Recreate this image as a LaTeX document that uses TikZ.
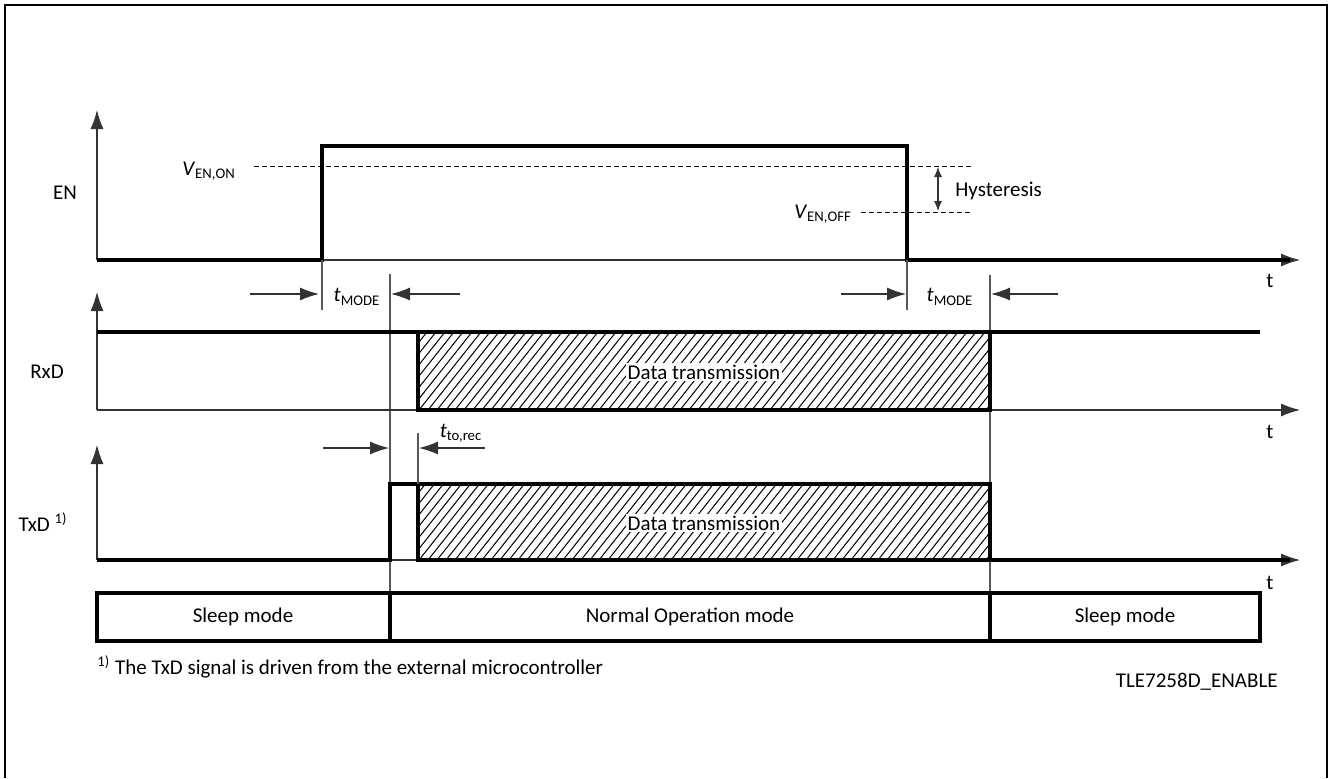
\documentclass[tikz,border=0pt]{standalone}
\usepackage{fontspec}
\setmainfont{Carlito}
\usetikzlibrary{arrows.meta}
\newcommand{\tsub}[2]{\textit{#1}\textsubscript{#2}}
\tikzset{
	sig/.style={line width=1.7pt},
	thin/.style={line width=0.55pt,black!80},
	guide/.style={line width=0.55pt,black!65},
	axis/.style={thin,-{Latex[length=9.5pt,width=6.5pt]}},
	dim/.style={thin,-{Latex[length=9.5pt,width=6.5pt]}},
	hyst/.style={thin,{Latex[length=5pt,width=4pt]}-{Latex[length=5pt,width=4pt]}},
	level/.style={line width=0.5pt,dash pattern=on 2.5pt off 1.5pt},
	hatch/.style={line width=0.5pt},
	modebox/.style={line width=1.7pt},
	every node/.style={font=\fontsize{10.5}{12.6}\selectfont,inner sep=1pt},
}
\begin{document}
\begin{tikzpicture}[x=0.5pt,y=-0.5pt]
	\useasboundingbox (0,0) rectangle (1330,778);
	\draw[line width=0.6pt] (5,778)--(5,5)--(1327,5)--(1327,778);

	% EN
	\node at (65,193)(en){EN};
	\coordinate (en0) at (97,260);
	\draw[axis] (en0)--(97,110);
	\draw[axis] (en0)--(1300,260);
	\draw[sig] (en0)--(322,260)--(322,146)--(907,146)--(907,260)--(1290,260);
	\node at (209,171)(von){\tsub{V}{EN,ON}};
	\node at (823,214)(voff){\tsub{V}{EN,OFF}};
	\draw[level] (254,166)--(971,166);
	\draw[level] (861,212)--(971,212);
	\coordinate (h1) at (938,167);
	\coordinate (h2) at (938,211);
	\draw[hyst] (h1)--(h2);
	\node[anchor=west] at (953,191)(hy){Hysteresis};
	\node at (1270,281)(t1){t};

	% t_MODE
	\draw[guide] (322,260)--(322,310);
	\draw[guide] (907,260)--(907,310);
	\draw[guide] (390,274)--(390,593);
	\draw[guide] (990,275)--(990,593);
	\node at (357,297)(tm1){\tsub{t}{MODE}};
	\node at (950,297)(tm2){\tsub{t}{MODE}};
	\draw[dim] (250,294)--(319,294);
	\draw[dim] (460,294)--(391,294);
	\draw[dim] (841,294)--(906,294);
	\draw[dim] (1058,294)--(991,294);

	% RxD
	\node at (47,372)(rxd){RxD};
	\coordinate (rx0) at (97,410);
	\draw[axis] (rx0)--(97,292);
	\draw[axis] (rx0)--(1300,410);
	\draw[sig] (97,332)--(1260,332);
	\begin{scope}
		\clip (418,332) rectangle (990,410);
		\foreach \i in {0,...,72}
			\draw[hatch] ({418+\i*9-62},410)--++(62,-78);
	\end{scope}
	\draw[sig] (418,332) rectangle (990,410);
	\node[fill=white] at (704,372)(drx){Data transmission};
	\node at (1270,432)(t2){t};

	% TxD
	\node at (43,522)(txd){TxD \textsuperscript{1)}};
	\coordinate (tx0) at (97,560);
	\draw[axis] (tx0)--(97,445);
	\draw[axis] (tx0)--(1300,560);
	\draw[sig] (tx0)--(390,560)--(390,484)--(418,484);
	\begin{scope}
		\clip (418,484) rectangle (990,560);
		\foreach \i in {0,...,72}
			\draw[hatch] ({418+\i*9-62},560)--++(62,-78);
	\end{scope}
	\draw[sig] (418,484) rectangle (990,560);
	\draw[sig] (990,560)--(1290,560);
	\node[fill=white] at (704,523)(dtx){Data transmission};
	\node at (1270,583)(t3){t};

	% t_to,rec
	\draw[guide] (418,433)--(418,484);
	\node at (461,433)(ttr){\tsub{t}{to,rec}};
	\draw[dim] (323,448)--(389,448);
	\draw[dim] (485,448)--(419,448);

	% modes
	\draw[modebox] (97,593) rectangle (1260,641);
	\draw[modebox] (390,593)--(390,641) (990,593)--(990,641);
	\node at (243,617)(m1){Sleep mode};
	\node at (690,617)(m2){Normal Operation mode};
	\node at (1125,617)(m3){Sleep mode};

	\node[anchor=west] at (95,667)(fn){\textsuperscript{1)} The TxD signal is driven from the external microcontroller};
	\node[anchor=east] at (1280,682)(id){TLE7258D\_ENABLE};
\end{tikzpicture}
\end{document}
